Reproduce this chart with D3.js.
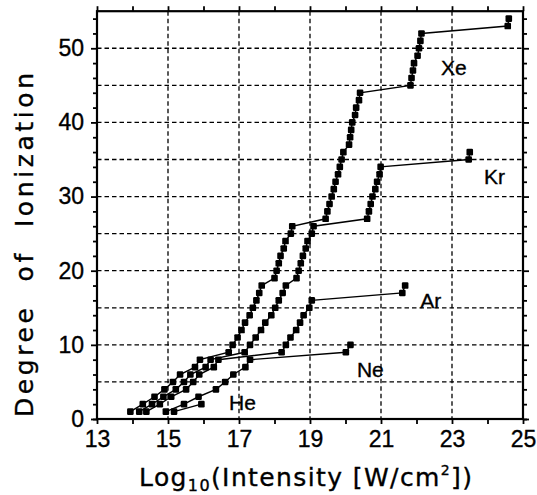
<!DOCTYPE html>
<html>
<head>
<meta charset="utf-8">
<script src="https://cdn.jsdelivr.net/npm/d3@7"></script>
<style>
  body { margin: 0; background: #fff; }
  text { font-family: "Liberation Sans", Arial, sans-serif; fill: #000; stroke: #000; stroke-width: 0.35px; }
</style>
</head>
<body>
<script>
// Log10 of the intensity at which each charge state appears
const heLogI = [15.17, 15.94];
const heCharge = [1, 2];

const neLogI = [14.94, 15.45, 15.86, 16.35, 16.61, 16.84, 17.18, 17.31, 20.01, 20.14];
const neCharge = [1, 2, 3, 4, 5, 6, 7, 8, 9, 10];

const arLogI = [14.39, 14.77, 15.09, 15.51, 15.71, 15.88, 16.29, 16.42, 18.20,
  18.32, 18.45, 18.61, 18.72, 18.82, 18.98, 19.05, 21.60, 21.68];
const arCharge = [1, 2, 3, 4, 5, 6, 7, 8, 9, 10, 11, 12, 13, 14, 15, 16, 17, 18];

const krLogI = [14.19, 14.55, 14.87, 15.22, 15.45, 15.63, 16.06, 16.20, 17.16,
  17.31, 17.47, 17.62, 17.74, 17.91, 18.02, 18.12, 18.23, 18.32, 18.62, 18.68,
  18.74, 18.80, 18.88, 18.93, 19.05, 19.10, 20.61, 20.66, 20.71, 20.76, 20.84,
  20.89, 20.96, 20.99, 23.47, 23.50];
const krCharge = [1, 2, 3, 4, 5, 6, 7, 8, 9, 10, 11, 12, 13, 14, 15, 16, 17, 18,
  19, 20, 21, 22, 23, 24, 25, 26, 27, 28, 29, 30, 31, 32, 33, 34, 35, 36];

const xeLogI = [13.94, 14.29, 14.62, 14.90, 15.14, 15.34, 15.76, 15.90, 16.71,
  16.82, 16.96, 17.07, 17.17, 17.30, 17.39, 17.49, 17.57, 17.64, 18.00, 18.06,
  18.12, 18.17, 18.26, 18.31, 18.46, 18.50, 19.44, 19.49, 19.55, 19.61, 19.67,
  19.72, 19.79, 19.84, 19.89, 19.94, 20.10, 20.13, 20.16, 20.19, 20.27, 20.30,
  20.38, 20.41, 21.83, 21.86, 21.90, 21.93, 22.03, 22.07, 22.11, 22.14, 24.57, 24.60];
const xeCharge = [1, 2, 3, 4, 5, 6, 7, 8, 9, 10, 11, 12, 13, 14, 15, 16, 17, 18,
  19, 20, 21, 22, 23, 24, 25, 26, 27, 28, 29, 30, 31, 32, 33, 34, 35, 36, 37, 38,
  39, 40, 41, 42, 43, 44, 45, 46, 47, 48, 49, 50, 51, 52, 53, 54];

const elements = ['He', 'Ne', 'Ar', 'Kr', 'Xe'];

// Axis ticks and grid
const xTicks = [13, 14, 15, 16, 17, 18, 19, 20, 21, 22, 23, 24, 25];
const xLabels = [13, 15, 17, 19, 21, 23, 25];
const xGrid = [15, 17, 19, 21, 23];
const yTicks = [0, 2, 4, 6, 8, 12, 14, 16, 18, 22, 24, 26, 28, 32, 34, 36, 38,
  42, 44, 46, 48, 52, 54];
const yLabels = [0, 10, 20, 30, 40, 50];
const yGrid = [5, 10, 15, 20, 25, 30, 35, 40, 45, 50];

const series = [
  { name: 'He', x: heLogI, y: heCharge },
  { name: 'Ne', x: neLogI, y: neCharge },
  { name: 'Ar', x: arLogI, y: arCharge },
  { name: 'Kr', x: krLogI, y: krCharge },
  { name: 'Xe', x: xeLogI, y: xeCharge }
];

const width = 537;
const height = 495;
const plotLeft = 97, plotRight = 523, plotTop = 11.2, plotBottom = 419;

const x = d3.scaleLinear().domain([13, 25]).range([plotLeft, plotRight]);
const y = d3.scaleLinear().domain([0, 55]).range([plotBottom, plotTop]);

const svg = d3
  .select('body')
  .append('svg')
  .attr('width', width)
  .attr('height', height);

// Dashed grid
svg
  .selectAll('.vgrid')
  .data(xGrid)
  .enter()
  .append('line')
  .attr('x1', (d) => x(d))
  .attr('x2', (d) => x(d))
  .attr('y1', plotTop)
  .attr('y2', plotBottom)
  .style('stroke', '#000')
  .style('stroke-width', '1.3px')
  .style('stroke-dasharray', '4.5,3');

svg
  .selectAll('.hgrid')
  .data(yGrid)
  .enter()
  .append('line')
  .attr('x1', plotLeft)
  .attr('x2', plotRight)
  .attr('y1', (d) => y(d))
  .attr('y2', (d) => y(d))
  .style('stroke', '#000')
  .style('stroke-width', '1.3px')
  .style('stroke-dasharray', '4.5,3');

// Axes: minor and major ticks on all four sides
function styleAxis(g) {
  g.select('.domain').remove();
  g.selectAll('line').style('stroke', '#000').style('stroke-width', '1.8px');
  g.selectAll('text').style('font-size', '23px').style('font-family', '"Liberation Sans", Arial, sans-serif');
}

svg
  .append('g')
  .attr('transform', `translate(0,${plotBottom})`)
  .call(
    d3.axisBottom(x).tickValues(xTicks).tickSize(5).tickPadding(7)
      .tickFormat((d) => (xLabels.includes(d) ? d : ''))
  )
  .call(styleAxis);

svg
  .append('g')
  .attr('transform', `translate(0,${plotTop})`)
  .call(d3.axisTop(x).tickValues(xTicks).tickSize(5).tickFormat(''))
  .call(styleAxis);

svg
  .append('g')
  .attr('transform', `translate(${plotLeft},0)`)
  .call(d3.axisLeft(y).tickValues(yTicks).tickSize(4).tickFormat(''))
  .call(styleAxis);

svg
  .append('g')
  .attr('transform', `translate(${plotLeft},0)`)
  .call(d3.axisLeft(y).tickValues(yLabels).tickSize(6).tickPadding(7))
  .call(styleAxis);

svg
  .append('g')
  .attr('transform', `translate(${plotRight},0)`)
  .call(d3.axisRight(y).tickValues(yTicks).tickSize(4).tickFormat(''))
  .call(styleAxis);

svg
  .append('g')
  .attr('transform', `translate(${plotRight},0)`)
  .call(d3.axisRight(y).tickValues(yLabels).tickSize(6).tickFormat(''))
  .call(styleAxis);

// Frame
svg
  .append('rect')
  .attr('x', plotLeft)
  .attr('y', plotTop)
  .attr('width', plotRight - plotLeft)
  .attr('height', plotBottom - plotTop)
  .style('fill', 'none')
  .style('stroke', '#000')
  .style('stroke-width', '2.2px');

// Lines and square markers
const line = d3
  .line()
  .x((d) => x(d[0]))
  .y((d) => y(d[1]));

series.forEach((s) => {
  const pts = s.x.map((v, i) => [v, s.y[i]]);

  svg
    .append('path')
    .datum(pts)
    .attr('d', line)
    .style('fill', 'none')
    .style('stroke', '#000')
    .style('stroke-width', '1.4px');

  svg
    .selectAll('.pt-' + s.name)
    .data(pts)
    .enter()
    .append('rect')
    .attr('class', 'pt-' + s.name)
    .attr('x', (d) => x(d[0]) - 3.3)
    .attr('y', (d) => y(d[1]) - 3.3)
    .attr('width', 6.6)
    .attr('height', 6.6)
    .attr('rx', 1.2)
    .style('fill', '#000');
});

// Element labels (placed in data units)
const labelAt = { Xe: [23.05, 46.4], Kr: [24.2, 31.7], Ar: [22.4, 15.0], Ne: [20.7, 5.7], He: [17.1, 1.2] };

svg
  .selectAll('.label')
  .data(elements)
  .enter()
  .append('text')
  .attr('class', 'label')
  .attr('x', (d) => x(labelAt[d][0]))
  .attr('y', (d) => y(labelAt[d][1]))
  .attr('text-anchor', 'middle')
  .style('font-size', '21px')
  .text((d) => d);

// Axis titles
const xTitle = svg
  .append('text')
  .attr('x', 139)
  .attr('y', 486)
  .attr('textLength', 333)
  .attr('lengthAdjust', 'spacing')
  .style('font-family', '"DejaVu Sans", sans-serif')
  .style('font-size', '25px');
xTitle.append('tspan').text('Log');
xTitle.append('tspan').attr('dy', 5).style('font-size', '16px').text('10');
xTitle.append('tspan').attr('dy', -5).text('(Intensity\u00a0[W/cm');
xTitle.append('tspan').attr('dy', -11).style('font-size', '14px').text('2');
xTitle.append('tspan').attr('dy', 11).text('])');

svg
  .append('text')
  .attr('transform', 'translate(33,245) rotate(-90)')
  .attr('text-anchor', 'middle')
  .attr('textLength', 344)
  .attr('lengthAdjust', 'spacing')
  .style('font-family', '"DejaVu Sans", sans-serif')
  .style('font-size', '25px')
  .text('Degree\u00a0\u00a0of\u00a0\u00a0Ionization');
</script>
</body>
</html>
